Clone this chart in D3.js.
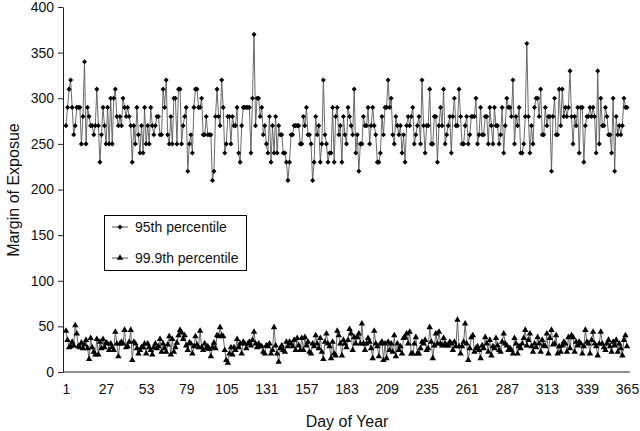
<!DOCTYPE html>
<html><head><meta charset="utf-8">
<script src="https://cdn.jsdelivr.net/npm/d3@7"></script>
<style>body{margin:0;background:#fff}svg{display:block}text{font-family:"Liberation Sans",Arial,sans-serif}</style>
</head><body><svg id="c" width="640" height="431"></svg>
<script>
const xTickLabels = [1,27,53,79,105,131,157,183,209,235,261,287,313,339,365];
const yTickLabels = [0,50,100,150,200,250,300,350,400];
const seriesNames = ["95th percentile","99.9th percentile"];

const p95 = [
270,290,310,320,290,260,270,290,290,290,
250,280,340,250,290,280,270,270,260,270,
310,270,230,260,290,270,250,290,250,300,
250,300,310,280,270,280,270,300,290,280,
290,280,270,230,270,250,290,260,240,270,
240,290,250,270,250,290,270,
260,270,280,280,260,260,310,290,320,260,
250,280,250,300,300,250,310,310,250,270,
280,290,220,250,260,240,290,310,310,290,
290,300,260,260,280,260,260,260,210,220,
280,310,280,270,320,290,240,250,280,280,
250,280,270,270,290,240,230,270,290,290,
290,
290,290,
240,300,370,270,300,300,280,290,260,270,
250,240,280,230,270,240,280,240,270,260,
260,240,240,230,210,230,260,260,270,270,
270,270,250,250,280,270,290,260,260,250,
210,230,280,260,270,230,250,320,260,250,
230,240,240,290,230,280,290,260,270,230,
280,260,
250,290,280,270,260,310,240,260,
220,250,250,280,270,270,290,250,270,290,
270,260,230,230,240,280,260,290,290,320,
290,300,260,250,280,270,260,270,240,260,
230,270,280,270,280,290,250,260,270,280,
250,320,270,240,270,270,310,250,250,280,
280,230,270,
290,270,310,250,260,270,280,240,280,300,
270,270,310,280,250,250,270,280,250,260,
280,280,280,300,250,260,290,260,260,280,
280,250,290,270,250,290,270,270,250,260,
290,240,270,300,290,290,280,320,250,280,
270,290,240,240,250,280,360,280,240,270,
250,290,300,
300,280,310,260,260,290,270,280,280,220,
280,300,260,260,310,270,310,280,290,
280,290,330,280,250,280,270,290,240,290,
290,230,270,280,280,290,280,290,280,240,
330,250,300,270,270,290,280,260,260,240,
300,220,280,260,270,260,270,300,290,290
];

const p999 = [
45,35,27,28,33,29,51,42,28,27,
32,26,30,35,26,14,37,27,22,19,
36,19,33,26,36,27,32,31,24,31,
27,24,44,31,17,31,33,31,46,27,
28,33,46,13,33,31,26,20,24,27,
27,31,20,31,27,24,19,27,31,26,
28,36,22,31,26,22,30,39,19,36,
22,27,32,40,46,43,36,40,29,24,
32,31,20,28,39,30,27,45,27,24,
31,26,28,25,17,27,32,26,40,39,
49,40,39,24,13,10,20,27,19,27,
24,36,27,31,20,33,31,26,31,33,
29,35,44,31,27,31,28,
28,22,20,29,28,31,20,24,49,29,20,11,26,29,24,22,33,28,
33,31,28,35,24,37,29,24,37,24,
38,29,33,22,20,31,28,40,31,26,
37,22,14,33,42,31,28,15,33,20,
18,45,40,31,18,35,31,27,35,47,
42,24,38,31,38,42,31,53,31,24,
31,37,33,26,15,45,31,28,17,31,
33,13,31,15,33,24,31,22,40,17,
31,24,28,20,37,38,
42,31,44,20,20,31,38,20,20,26,
33,31,35,24,26,49,33,15,29,42,
31,44,31,29,37,31,29,29,33,31,
24,33,28,57,28,20,28,33,53,31,
13,26,38,40,22,26,28,24,15,29,
26,38,31,22,35,18,28,26,37,29,
24,22,33,42,31,29,24,26,24,20,
37,31,20,28,
26,31,37,46,29,35,42,28,22,31,27,
38,31,22,35,29,28,42,20,37,46,30,
31,40,20,28,22,29,33,31,22,38,26,
40,38,22,33,29,33,31,20,28,46,33,
31,20,35,44,31,28,18,31,44,31,27,
24,31,35,28,22,33,29,35,22,31,26,
18,35,40,28
];

const days = d3.range(1, 366);
const svg = d3.select("#c");
const x = d3.scaleLinear().domain([1,365]).range([66,627]);
const y = d3.scaleLinear().domain([0,400]).range([372,7]);

// axes
const ya = svg.append("g").attr("transform","translate(63,0)")
  .call(d3.axisLeft(y).tickValues(yTickLabels).tickSize(5).tickSizeOuter(0).tickPadding(4));
ya.selectAll("text").attr("font-size",14).attr("fill","#111");
ya.selectAll("line,path").attr("stroke","#222");
const xa = svg.append("g").attr("transform","translate(0,372)")
  .call(d3.axisBottom(x).tickValues(xTickLabels).tickSize(0).tickPadding(12).tickFormat(d3.format("d")));
xa.select(".domain").remove();
xa.selectAll("text").attr("font-size",14).attr("fill","#111");
svg.append("line").attr("x1",63).attr("x2",630).attr("y1",372).attr("y2",372).attr("stroke","#222");

// titles
svg.append("text").attr("x",347).attr("y",427).attr("text-anchor","middle").attr("font-size",16).attr("fill","#111").text("Day of Year");
svg.append("text").attr("transform","translate(19,190) rotate(-90)").attr("text-anchor","middle").attr("font-size",16).attr("fill","#111").text("Margin of Exposue");

const line = d3.line().x((d,i)=>x(days[i])).y(d=>y(d));
const series = [
  {name:seriesNames[0], vals:p95, sym:d3.symbolDiamond2, size:16},
  {name:seriesNames[1], vals:p999, sym:d3.symbolTriangle, size:18}
];
series.forEach(s=>{
  svg.append("path").datum(s.vals).attr("d",line).attr("fill","none").attr("stroke","#5a5a5a").attr("stroke-width",0.9);
  svg.append("g").selectAll("path").data(s.vals).join("path")
    .attr("transform",(d,i)=>`translate(${x(days[i])},${y(d)})`)
    .attr("d",d3.symbol(s.sym,s.size)).attr("fill","#000");
});

// legend
const lg = svg.append("g");
lg.append("rect").attr("x",104.5).attr("y",215.5).attr("width",142).attr("height",55).attr("fill","#fff").attr("stroke","#000");
series.forEach((s,i)=>{
  const yy = 227 + i*31;
  lg.append("line").attr("x1",112).attr("x2",128).attr("y1",yy).attr("y2",yy).attr("stroke","#5a5a5a");
  lg.append("path").attr("transform",`translate(120,${yy})`).attr("d",d3.symbol(s.sym,s.size)).attr("fill","#000");
  lg.append("text").attr("x",135).attr("y",yy+5).attr("font-size",14).attr("fill","#111").text(s.name);
});
</script></body></html>
